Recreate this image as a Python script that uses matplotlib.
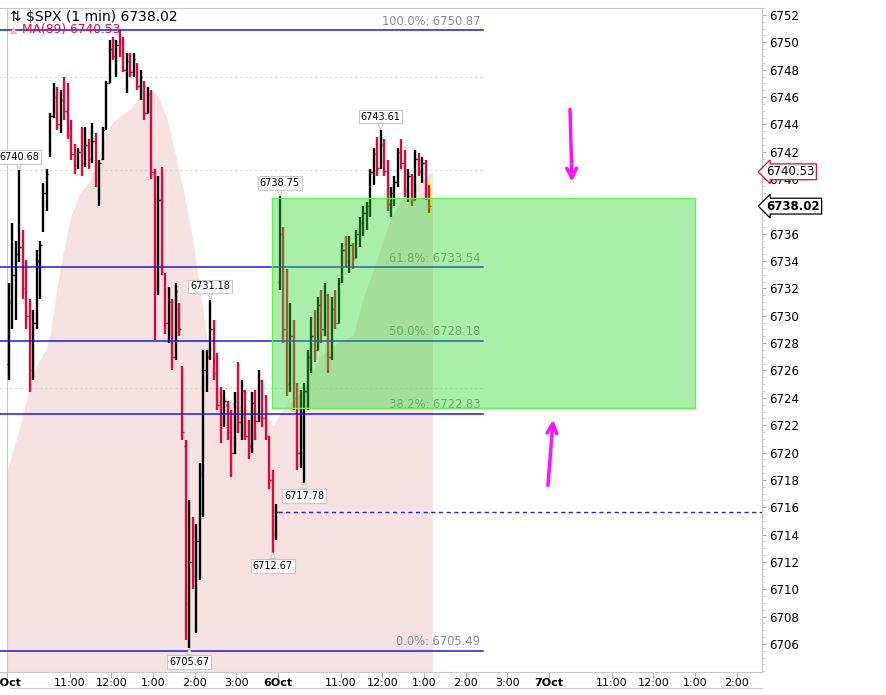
import numpy as np
import matplotlib
matplotlib.use('Agg')
import matplotlib.pyplot as plt
import matplotlib.transforms as mtransforms
from matplotlib.patches import Rectangle
from matplotlib.lines import Line2D

# 5-minute bars, Oct 3 (full session)
o3 = [6726.5, 6731.0, 6733.0, 6734.5, 6735.0, 6732.0, 6730.0, 6726.0, 6729.5, 6734.0,
      6736.5, 6739.0, 6741.8, 6744.6, 6746.0, 6744.0, 6745.8, 6745.0, 6743.2, 6741.8,
      6741.0, 6742.0, 6741.2, 6742.5, 6741.5, 6742.8, 6740.0, 6741.5, 6743.7, 6747.0,
      6749.5, 6749.0, 6749.8, 6749.2, 6748.0, 6748.6, 6747.8, 6748.4, 6746.8, 6747.2,
      6744.8, 6746.2, 6740.5, 6732.0, 6738.5, 6733.0, 6729.5, 6731.0, 6727.0, 6730.5,
      6726.0, 6720.5, 6709.0, 6712.0, 6711.0, 6713.5, 6718.5, 6726.0, 6727.0, 6729.0,
      6725.8, 6723.5, 6722.0, 6723.5, 6721.5, 6720.0, 6723.8, 6722.2, 6724.5, 6721.2,
      6720.5, 6723.6, 6722.3, 6725.2, 6722.5, 6721.2, 6718.0, 6714.0]
h3 = [6732.4, 6736.8, 6735.5, 6740.68, 6736.3, 6734.1, 6731.2, 6730.4, 6734.8, 6735.5,
      6739.7, 6740.7, 6744.8, 6747.0, 6746.7, 6746.5, 6747.5, 6747.0, 6744.3, 6742.6,
      6742.3, 6743.8, 6743.8, 6742.9, 6744.1, 6743.4, 6741.4, 6743.8, 6747.2, 6750.2,
      6750.4, 6750.2, 6750.87, 6750.4, 6749.2, 6749.2, 6749.2, 6748.5, 6748.0, 6747.2,
      6746.7, 6746.5, 6740.7, 6740.2, 6740.9, 6733.1, 6732.1, 6731.2, 6732.4, 6730.9,
      6726.3, 6720.9, 6716.5, 6715.3, 6714.8, 6719.2, 6727.5, 6727.5, 6731.18, 6729.7,
      6727.3, 6724.8, 6724.6, 6723.8, 6723.1, 6724.4, 6726.6, 6725.3, 6724.6, 6722.4,
      6724.4, 6724.6, 6726.0, 6725.3, 6724.2, 6721.2, 6718.7, 6716.2]
l3 = [6725.3, 6729.0, 6729.7, 6733.9, 6731.2, 6729.0, 6724.4, 6725.3, 6729.0, 6731.2,
      6736.1, 6737.7, 6741.6, 6744.5, 6743.6, 6743.4, 6744.3, 6742.9, 6741.4, 6740.4,
      6740.7, 6740.2, 6740.9, 6740.7, 6741.2, 6739.4, 6738.0, 6741.4, 6743.6, 6747.0,
      6748.7, 6747.5, 6748.9, 6747.8, 6746.3, 6747.5, 6747.5, 6746.5, 6745.8, 6744.3,
      6744.8, 6740.0, 6728.2, 6731.5, 6733.0, 6728.7, 6728.0, 6726.0, 6726.8, 6728.5,
      6720.9, 6706.3, 6705.67, 6710.0, 6706.8, 6710.7, 6715.3, 6724.4, 6726.8, 6725.3,
      6723.1, 6720.7, 6721.9, 6720.9, 6718.2, 6719.9, 6721.4, 6720.9, 6720.9, 6719.5,
      6720.0, 6720.9, 6722.2, 6721.9, 6720.9, 6717.3, 6712.67, 6713.6]
c3 = [6731.0, 6733.0, 6734.5, 6735.0, 6732.0, 6730.0, 6726.0, 6729.5, 6734.0, 6735.2,
      6739.0, 6740.4, 6744.6, 6746.0, 6744.0, 6745.8, 6745.0, 6743.2, 6741.8, 6741.0,
      6742.0, 6741.2, 6742.5, 6741.5, 6742.8, 6740.0, 6741.2, 6743.6, 6747.0, 6749.5,
      6749.0, 6749.8, 6749.2, 6748.0, 6748.6, 6747.8, 6748.8, 6746.8, 6747.5, 6744.8,
      6746.2, 6740.5, 6732.0, 6738.5, 6733.2, 6729.5, 6731.0, 6727.0, 6731.8, 6729.0,
      6721.5, 6709.0, 6712.0, 6711.0, 6713.5, 6718.5, 6726.0, 6727.0, 6729.0, 6725.8,
      6723.5, 6722.0, 6723.8, 6721.5, 6720.0, 6723.8, 6722.2, 6724.5, 6721.2, 6720.5,
      6723.6, 6722.3, 6725.2, 6722.5, 6721.2, 6718.0, 6714.0, 6715.65]

# Oct 6 (up to ~1:10pm)
o6 = [6732.5, 6736.0, 6729.0, 6725.0, 6728.5, 6724.0, 6720.0, 6723.0, 6724.5, 6727.0,
      6728.5, 6727.5, 6730.8, 6729.0, 6731.5, 6727.0, 6730.5, 6729.5, 6732.5, 6734.8,
      6734.0, 6735.2, 6734.2, 6736.0, 6736.8, 6737.5, 6738.0, 6740.5, 6741.8, 6740.8,
      6742.5, 6740.6, 6738.2, 6739.0, 6739.8, 6742.0, 6741.2, 6739.2, 6740.2, 6738.5,
      6741.5, 6740.6, 6741.2, 6739.0]
h6 = [6738.75, 6736.5, 6733.4, 6730.9, 6729.7, 6725.1, 6724.6, 6725.1, 6727.5, 6729.9,
      6730.4, 6731.4, 6731.9, 6732.4, 6731.6, 6731.4, 6731.9, 6732.8, 6735.3, 6735.8,
      6735.8, 6735.3, 6736.3, 6737.2, 6738.0, 6738.3, 6740.7, 6742.3, 6743.1, 6743.61,
      6742.9, 6741.4, 6739.4, 6740.2, 6742.3, 6742.9, 6742.1, 6740.7, 6740.4, 6742.1,
      6741.9, 6741.6, 6741.4, 6739.6]
l6 = [6731.9, 6728.0, 6724.1, 6724.4, 6723.1, 6718.7, 6718.9, 6717.78, 6723.1, 6725.8,
      6726.6, 6727.5, 6728.0, 6728.5, 6725.8, 6726.8, 6729.0, 6729.5, 6732.4, 6733.6,
      6733.1, 6733.4, 6734.2, 6735.0, 6735.8, 6736.3, 6737.2, 6739.6, 6740.2, 6740.7,
      6740.2, 6737.7, 6737.2, 6738.0, 6739.4, 6740.7, 6738.7, 6738.3, 6738.0, 6738.5,
      6740.2, 6739.7, 6738.5, 6737.5]
c6 = [6736.0, 6729.0, 6725.0, 6728.5, 6724.0, 6720.0, 6723.0, 6724.5, 6727.0, 6728.5,
      6727.5, 6730.8, 6729.0, 6731.5, 6727.0, 6730.5, 6729.5, 6732.5, 6734.8, 6734.0,
      6735.2, 6734.2, 6736.0, 6736.8, 6737.5, 6738.0, 6740.5, 6741.8, 6740.8, 6742.5,
      6740.6, 6738.2, 6739.0, 6739.8, 6742.0, 6741.2, 6739.2, 6740.2, 6738.5, 6741.5,
      6740.6, 6741.2, 6739.0, 6738.02]

# MA(89) (trading minutes from Oct 3 open)
ma_t = [0, 5, 19, 37, 55, 62, 76, 91, 105, 119, 134, 144, 158, 177, 191, 206, 217, 230,
        239, 253, 268, 282, 292, 306, 328, 350, 371, 383, 397, 426, 450, 475, 498, 512,
        532, 551, 570, 590, 612]
ma_v = [6718.7, 6719.5, 6722.0, 6725.8, 6727.5, 6728.6, 6733.4, 6737.2, 6739.0, 6739.9,
        6741.9, 6743.6, 6744.5, 6745.1, 6746.0, 6746.5, 6746.1, 6744.5, 6742.6, 6739.4,
        6735.3, 6730.4, 6726.8, 6724.4, 6723.5, 6723.1, 6722.8, 6722.0, 6723.1, 6724.6,
        6727.0, 6728.0, 6728.6, 6731.2, 6734.1, 6737.0, 6738.7, 6739.7, 6740.53]

fib_pct = ['100.0%', '61.8%', '50.0%', '38.2%', '0.0%']
fib_val = [6750.87, 6733.54, 6728.18, 6722.83, 6705.49]
dotted_levels = [6747.46, 6740.66, 6724.72]
prev_close = 6715.65

# (bar day, bar index, 'high'/'low', text)
peak_labels = [(3, 3, 'high', '6740.68'), (3, 58, 'high', '6731.18'),
               (3, 52, 'low', '6705.67'), (3, 76, 'low', '6712.67'),
               (6, 0, 'high', '6738.75'), (6, 7, 'low', '6717.78'),
               (6, 29, 'high', '6743.61')]

tick_pos = [0, 90, 150, 210, 270, 330, 390, 480, 540, 600, 660, 720, 780, 870, 930, 990, 1050]
tick_lab = ['3Oct', '11:00', '12:00', '1:00', '2:00', '3:00', '6Oct', '11:00', '12:00',
            '1:00', '2:00', '3:00', '7Oct', '11:00', '12:00', '1:00', '2:00']

RED = '#dc0a3c'
W, H = 887, 695
fig = plt.figure(figsize=(W / 100, H / 100), dpi=100)
ax = fig.add_axes([0, 1 - 672 / H, 762 / W, 664 / H])
ax.set_xlim(-10.07, 1086.3)
ax.set_ylim(6703.95, 6752.51)

x3 = np.arange(len(c3)) * 5 + 2.5
x6 = 390 + np.arange(len(c6)) * 5 + 2.5
xs = np.concatenate([x3, x6])
o = np.array(o3 + o6); hi = np.array(h3 + h6); lo = np.array(l3 + l6); c = np.array(c3 + c6)
cols = ['black' if cc >= oo else RED for oo, cc in zip(o, c)]

# MA shaded area
ax.fill_between(ma_t, ma_v, 6703.95, color='#f6e2e3', lw=0, zorder=1)

# session dotted lines
for lv in dotted_levels:
    ax.plot([-10.07, 688], [lv, lv], color='#d0d0d0', lw=0.8, ls=(0, (1.5, 3)), zorder=1.5)
ax.axvline(0, color='#c8c8c8', lw=0.8, zorder=1.5)

# highlight last bar
ax.add_patch(Rectangle((xs[-1] - 3, l6[-1] - 0.2), 6, h6[-1] - l6[-1] + 0.4,
                       fc='#ffff40', ec='none', zorder=2))

# OHLC bars
ax.vlines(xs, lo, hi, colors=cols, lw=1.7, zorder=3)
ax.hlines(o, xs - 2.2, xs, colors=cols, lw=1.0, zorder=3)
ax.hlines(c, xs, xs + 2.2, colors=cols, lw=1.0, zorder=3)

# fib levels
for pct, v in zip(fib_pct, fib_val):
    ax.plot([-10.07, 685], [v, v], color='#1a1aee', lw=1.1, zorder=4)
    ax.annotate(f'{pct}: {v:.2f}', xy=(685, v), xytext=(-2, 2), textcoords='offset points',
                ha='right', va='bottom', fontsize=8.3, color='#8c8c8c', zorder=4)

# previous close
ax.plot([390, 1086.3], [prev_close, prev_close], color='#2222ee', lw=1.0,
        ls=(0, (3, 2.5)), zorder=4)

# green zone
ax.add_patch(Rectangle((381, 6723.25), 990 - 381, 6738.65 - 6723.25,
                       fc=(0.2, 0.86, 0.2, 0.42), ec='#66ee55', lw=1.0, zorder=5))

# high / low labels
for day, i, kind, txt in peak_labels:
    xx = (x3 if day == 3 else x6)[i]
    yy = (h3 if day == 3 else h6)[i] if kind == 'high' else (l3 if day == 3 else l6)[i]
    dy = 9.5 if kind == 'high' else -9.5
    ax.annotate(txt, xy=(xx, yy), xytext=(0, dy), textcoords='offset points',
                ha='center', va='center', fontsize=7, zorder=6,
                bbox=dict(boxstyle='square,pad=0.2', fc='white', ec='#c8c8c8', lw=0.8),
                arrowprops=dict(arrowstyle='wedge,tail_width=0.5', fc='white', ec='#c8c8c8',
                                lw=0.8, shrinkA=0, shrinkB=0))

# hand-drawn arrows
ax.annotate('', xy=(813, 6739.6), xytext=(810, 6745.3),
            arrowprops=dict(arrowstyle='->,head_length=0.7,head_width=0.35', color='#ff10ff', lw=2.5),
            zorder=7)
ax.annotate('', xy=(786, 6722.6), xytext=(778, 6717.4),
            arrowprops=dict(arrowstyle='->,head_length=0.7,head_width=0.35', color='#ff10ff', lw=2.5),
            zorder=7)

# axes styling
ax.spines['left'].set_visible(False)
for s in ['top', 'bottom', 'right']:
    ax.spines[s].set_color('#c8c8c8')
ax.yaxis.tick_right()
yt = np.arange(6706, 6753, 2)
ax.set_yticks(yt)
# 6738 label sits under the last-price flag
ax.set_yticklabels(['' if v == 6738 else str(v) for v in yt])
ax.set_yticks(np.arange(6704, 6752.6, 0.5), minor=True)
ax.tick_params(axis='y', which='major', length=3, color='#b0b0b0', labelsize=8.5, pad=2)
ax.tick_params(axis='y', which='minor', length=2, color='#c8c8c8')
ax.set_xticks(tick_pos)
ax.set_xticklabels(tick_lab)
ax.tick_params(axis='x', length=4, color='#b0b0b0', labelsize=8, pad=0.5)
for lab in ax.get_xticklabels():
    if 'Oct' in lab.get_text():
        lab.set_fontweight('bold')

# right-axis price flags
trans = mtransforms.blended_transform_factory(ax.transAxes, ax.transData)
ax.text(1.006, 6740.53, '6740.53', transform=trans, ha='left', va='center', fontsize=8.5,
        zorder=8, clip_on=False,
        bbox=dict(boxstyle='larrow,pad=0.12', fc='white', ec=RED, lw=0.9))
ax.text(1.006, 6738.02, '6738.02', transform=trans, ha='left', va='center', fontsize=8.5,
        fontweight='bold', zorder=8, clip_on=False,
        bbox=dict(boxstyle='larrow,pad=0.12', fc='white', ec='black', lw=0.9))

# header
fig.text(10 / W, 1 - 17 / H, '⇅ $SPX (1 min) 6738.02', fontsize=10, va='center')
fig.text(10 / W, 1 - 30 / H, '▲', fontsize=7, color='#f2b8c0', va='center')
fig.text(22 / W, 1 - 30 / H, 'MA(89) 6740.53', fontsize=8.8, color=RED, va='center')

fig.add_artist(Line2D([10 / W, 762 / W], [1 - 688 / H] * 2, color='#c8c8c8', lw=0.8))

fig.savefig('out.png', dpi=100)
